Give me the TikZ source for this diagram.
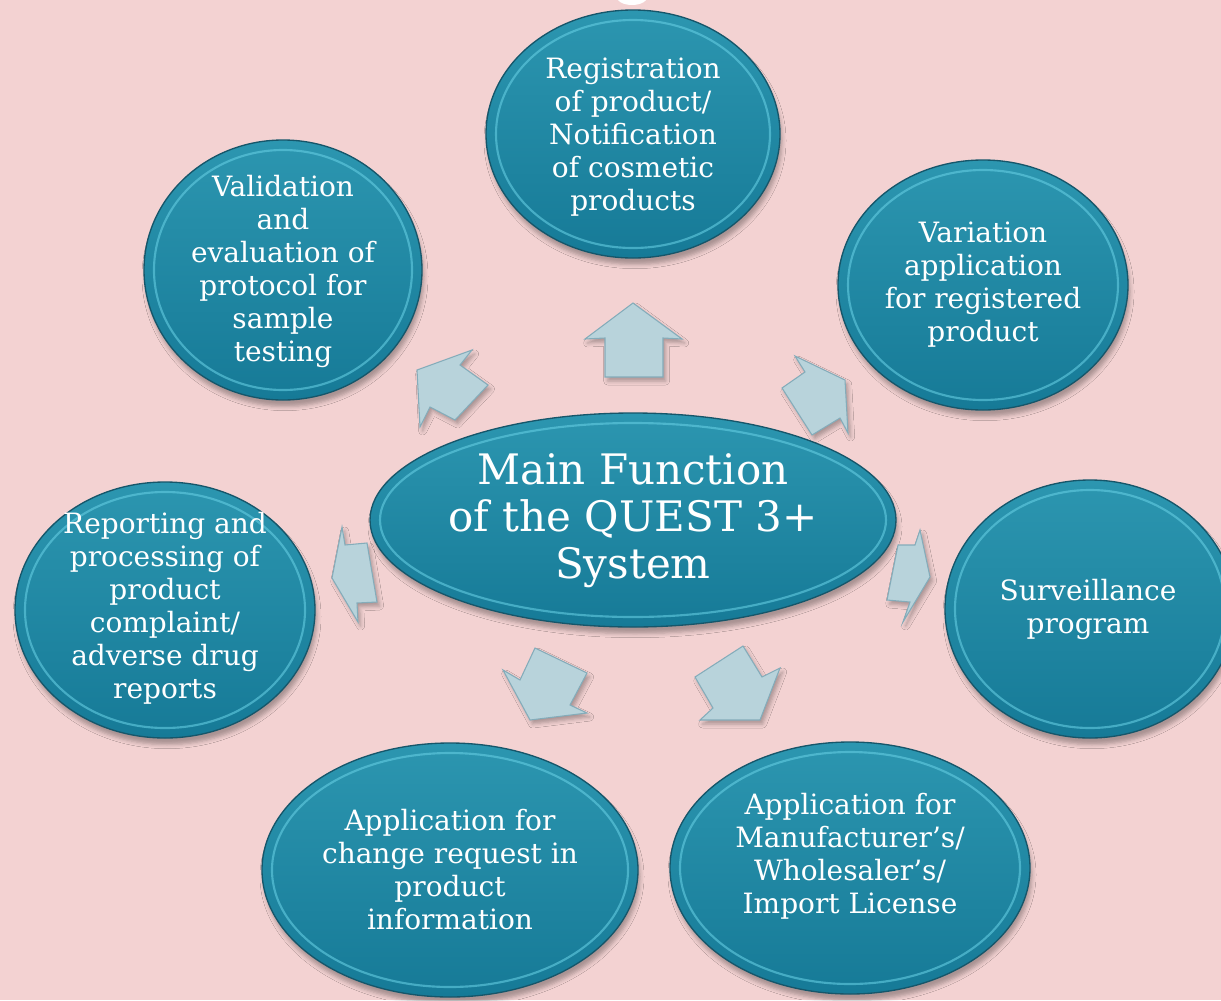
\documentclass[tikz,border=0pt]{standalone}
\usepackage{fontspec}
\setmainfont{DejaVu Serif}
\usetikzlibrary{shapes.geometric}
\usetikzlibrary{shadows.blur}

\definecolor{pagepink}{RGB}{243,210,210}
\definecolor{tealtop}{RGB}{44,150,176}
\definecolor{tealbot}{RGB}{22,122,151}
\definecolor{tealedge}{RGB}{22,86,106}
\definecolor{tealrim}{RGB}{100,205,226}
\definecolor{arrowfill}{RGB}{184,211,219}
\definecolor{arrowedge}{RGB}{132,172,186}

\newcommand{\pxu}{0.75pt}

\begin{document}
\begin{tikzpicture}[x=\pxu, y=-\pxu]

\tikzstyle{bubble}=[ellipse, draw=tealedge, line width=1pt, top color=tealtop, bottom color=tealbot,
  inner sep=0pt, blur shadow={shadow xshift=1.5pt, shadow yshift=-5pt, shadow blur radius=3pt, shadow opacity=30}]
\tikzstyle{rim}=[draw=tealrim, line width=1.6pt, opacity=0.6]
\tikzstyle{caption}=[text=white, align=center, inner sep=0pt, font=\fontsize{21pt}{24.75pt}\selectfont]
\tikzstyle{block}=[fill=arrowfill, draw=arrowedge, line width=0.8pt, line join=miter,
  blur shadow={shadow xshift=2pt, shadow yshift=-3pt, shadow blur radius=3pt, shadow opacity=30}]

\useasboundingbox (0,0) rectangle (1221,1000);
\fill[pagepink] (0,0) rectangle (1221,1000);
\fill[white] (632,-4) ellipse [x radius=16, y radius=9];

% outer ring of functions
\node[bubble, minimum width=294*\pxu, minimum height=248*\pxu] (reg) at (633,134) {};
\node[bubble, minimum width=278*\pxu, minimum height=260*\pxu] (val) at (283,270) {};
\node[bubble, minimum width=290*\pxu, minimum height=250*\pxu] (var) at (983,285) {};
\node[bubble, minimum width=300*\pxu, minimum height=256*\pxu] (rep) at (165,610) {};
\node[bubble, minimum width=290*\pxu, minimum height=258*\pxu] (sur) at (1090,609) {};
\node[bubble, minimum width=376*\pxu, minimum height=254*\pxu] (chg) at (450,870) {};
\node[bubble, minimum width=360*\pxu, minimum height=252*\pxu] (lic) at (850,868) {};
% centre
\node[bubble, minimum width=526*\pxu, minimum height=214*\pxu] (main) at (633,520) {};

\foreach \n/\a/\b in {reg/147/124, val/139/130, var/145/125, rep/150/128, sur/145/129,
    chg/188/127, lic/180/126, main/263/107}
  \draw[rim] (\n) ellipse [x radius=\a-10, y radius=\b-10];

\node[caption] (reg-txt) at (633,137) {Registration\\of product/\\Notification\\of cosmetic\\products};
\node[caption] (val-txt) at (283,271) {Validation\\and\\evaluation of\\protocol for\\sample\\testing};
\node[caption] (var-txt) at (983,285) {Variation\\application\\for registered\\product};
\node[caption] (rep-txt) at (165,608) {Reporting and\\processing of\\product\\complaint/\\adverse drug\\reports};
\node[caption] (sur-txt) at (1088,609) {Surveillance\\program};
\node[caption] (chg-txt) at (450,870) {Application for\\change request in\\product\\information};
\node[caption] (lic-txt) at (850,856) {Application for\\Manufacturer’s/\\Wholesaler’s/\\Import License};
\node[caption, font=\fontsize{31.5pt}{35.25pt}\selectfont] (main-txt) at (633,521)
  {Main Function\\of the QUEST 3+\\System};

% block arrows pointing out of the centre
\draw[block] (633,303) -- (682,339) -- (663,338) -- (663,377) -- (605,377) -- (605,338) -- (585,339) -- cycle;
\draw[block] (417,370) -- (472,350) -- (460,365) -- (488,385) -- (455,420) -- (430,407) -- (420,427) -- cycle;
\draw[block] (845,380) -- (795,356) -- (805,372) -- (782,388) -- (812,435) -- (840,418) -- (848,433) -- cycle;
\draw[block] (332,578) -- (342,527) -- (345,545) -- (367,543) -- (377,602) -- (357,603) -- (358,622) -- cycle;
\draw[block] (930,577) -- (920,530) -- (915,545) -- (898,545) -- (887,600) -- (910,602) -- (903,622) -- cycle;
\draw[block] (530,720) -- (503,670) -- (520,680) -- (535,648) -- (587,673) -- (570,705) -- (587,713) -- cycle;
\draw[block] (760,720) -- (780,668) -- (762,677) -- (743,646) -- (695,677) -- (713,708) -- (700,720) -- cycle;

\end{tikzpicture}
\end{document}
